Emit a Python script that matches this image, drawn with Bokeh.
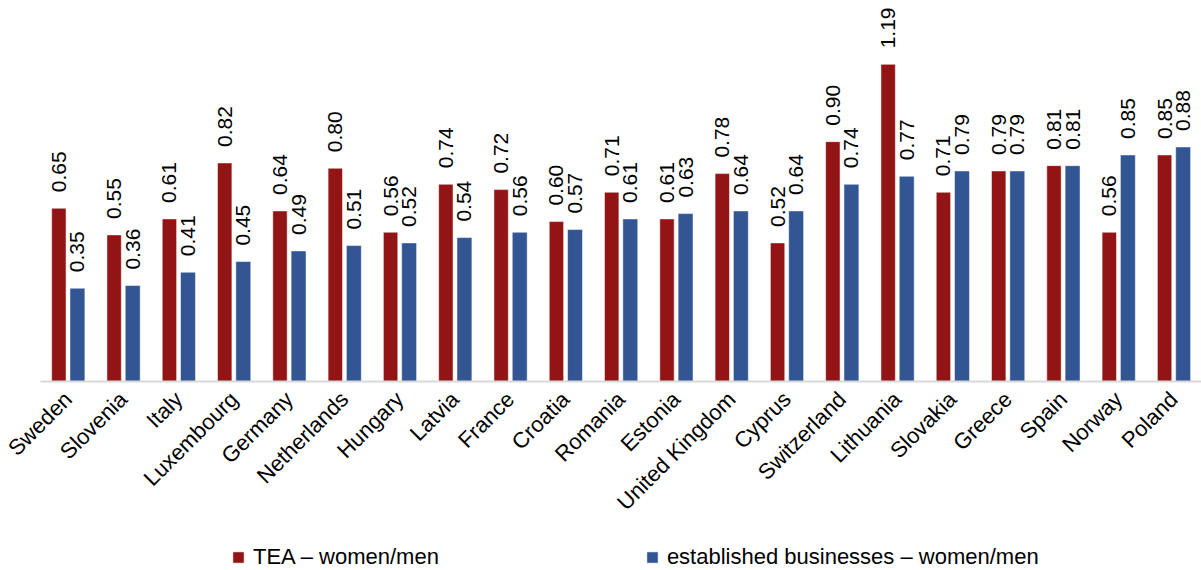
import math
from bokeh.plotting import figure
from bokeh.layouts import column
from bokeh.models import FactorRange, Range1d, ColumnDataSource, Legend, LegendItem
from bokeh.transform import dodge
from bokeh.core.properties import value
from bokeh.embed import file_html
from bokeh.resources import INLINE

countries = ["Sweden", "Slovenia", "Italy", "Luxembourg", "Germany", "Netherlands",
             "Hungary", "Latvia", "France", "Croatia", "Romania", "Estonia",
             "United Kingdom", "Cyprus", "Switzerland", "Lithuania", "Slovakia",
             "Greece", "Spain", "Norway", "Poland"]
tea = [0.65, 0.55, 0.61, 0.82, 0.64, 0.80, 0.56, 0.74, 0.72, 0.60, 0.71, 0.61,
       0.78, 0.52, 0.90, 1.19, 0.71, 0.79, 0.81, 0.56, 0.85]
est = [0.35, 0.36, 0.41, 0.45, 0.49, 0.51, 0.52, 0.54, 0.56, 0.57, 0.61, 0.63,
       0.64, 0.64, 0.74, 0.77, 0.79, 0.79, 0.81, 0.85, 0.88]
series_names = ["TEA \u2013 women/men", "established businesses \u2013 women/men"]

src = ColumnDataSource(dict(
    country=countries, tea=tea, est=est,
    tea_lbl=[f"{v:.2f}" for v in tea],
    est_lbl=[f"{v:.2f}" for v in est],
))

FONT = "Liberation Sans"
RED = "#921414"
BLUE = "#325694"

p = figure(x_range=FactorRange(factors=countries, range_padding=0),
           y_range=Range1d(0, 1.4296),
           width=1201, height=540, output_backend="svg", toolbar_location=None,
           min_border_left=40, min_border_right=0, min_border_top=0,
           min_border_bottom=159)

r1 = p.vbar(x=dodge("country", -0.168, range=p.x_range), top="tea", width=0.26,
            source=src, fill_color=RED, line_color="white", line_alpha=0.5, line_width=1)
r2 = p.vbar(x=dodge("country", 0.168, range=p.x_range), top="est", width=0.27,
            source=src, fill_color=BLUE, line_color="white", line_alpha=0.5, line_width=1)

p.text(x=dodge("country", -0.168, range=p.x_range), y="tea", text="tea_lbl",
       angle=math.pi / 2, text_align="left", text_baseline="middle", y_offset=-16,
       text_font=value(FONT), text_font_size="21px", text_color="black", source=src)
p.text(x=dodge("country", 0.168, range=p.x_range), y="est", text="est_lbl",
       angle=math.pi / 2, text_align="left", text_baseline="middle", y_offset=-16,
       text_font=value(FONT), text_font_size="21px", text_color="black", source=src)

p.yaxis.visible = False
p.xgrid.grid_line_color = None
p.ygrid.grid_line_color = None
p.outline_line_color = None

ax = p.xaxis[0]
ax.axis_line_color = "#d9d9d9"
ax.axis_line_width = 2
ax.major_tick_line_color = None
ax.minor_tick_line_color = None
ax.major_tick_out = 0
ax.major_tick_in = 0
ax.major_label_orientation = math.pi / 4
ax.major_label_standoff = 14
ax.major_label_text_font = FONT
ax.major_label_text_font_size = "22px"
ax.major_label_text_color = "black"

# legend strip below the chart
lg = figure(width=1201, height=30, output_backend="svg", toolbar_location=None,
            x_axis_type=None, y_axis_type=None, x_range=Range1d(0, 1), y_range=Range1d(0, 1),
            min_border_left=0, min_border_right=0, min_border_top=0, min_border_bottom=0)
lg.outline_line_color = None
lg.xgrid.grid_line_color = None
lg.ygrid.grid_line_color = None
offscreen = ColumnDataSource(dict(x=[-10.0], top=[-10.0]))
d1 = lg.vbar(x="x", top="top", width=0.1, source=offscreen, fill_color=RED,
             line_color="white", line_alpha=0.5)
d2 = lg.vbar(x="x", top="top", width=0.1, source=offscreen, fill_color=BLUE,
             line_color="white", line_alpha=0.5)
legend = Legend(items=[LegendItem(label=series_names[0], renderers=[d1]),
                       LegendItem(label=series_names[1], renderers=[d2])],
                orientation="horizontal", location=(191, 0),
                spacing=206, padding=0, margin=0,
                border_line_color=None, background_fill_alpha=0,
                glyph_width=14, glyph_height=14, label_standoff=8,
                label_text_font=FONT, label_text_font_size="22px",
                label_text_color="black")
lg.add_layout(legend, "center")

layout = column(p, lg, spacing=0)
open("out.html", "w").write(file_html(layout, INLINE))
